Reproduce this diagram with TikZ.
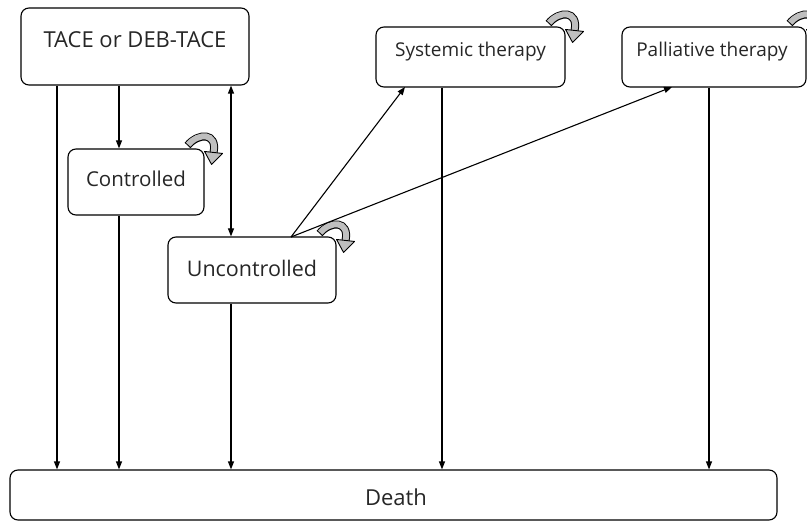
\documentclass[tikz,border=0pt]{standalone}
\usepackage{fontspec}
\setmainfont{Open Sans}
\usetikzlibrary{arrows.meta,calc}
\tikzset{
  box/.style={draw, line width=1.1pt, rounded corners=8pt, inner sep=0pt},
  lbl/.style={inner sep=0pt, text=black!85},
  arr/.style={line width=1.1pt, -{Triangle[length=8pt,width=6pt]}},
  darr/.style={line width=1.1pt, {Triangle[length=8pt,width=6pt]}-{Triangle[length=8pt,width=6pt]}},
  selfloop/.pic={
    \draw[line width=8pt, line cap=butt] (-17,-3) .. controls (-6,-16) and (13,-16) .. (9,4);
    \draw[line width=6pt, black!25, line cap=butt, shorten <=1pt] (-17,-3) .. controls (-6,-16) and (13,-16) .. (9,4);
    \draw[line width=0.9pt, fill=black!25, line join=round] (0,3) -- (18,5) -- (7,16) -- cycle;
  }
}
\begin{document}
\begin{tikzpicture}[x=1pt,y=-1pt]
\useasboundingbox (0,0) rectangle (807,524);
% boxes
\node[box, minimum width=228pt, minimum height=77pt] (tace) at (135,46.5) {};
\node[lbl, font={\fontsize{22}{24}\selectfont}] (tacet) at (135,40) {TACE or DEB-TACE};
\node[box, minimum width=136pt, minimum height=66pt] (ctrl) at (136,182) {};
\node[lbl, font={\fontsize{20.5}{22}\selectfont}] (ctrlt) at (136,179) {Controlled};
\node[box, minimum width=168pt, minimum height=66pt] (unc) at (252,270) {};
\node[lbl, font={\fontsize{21.5}{23}\selectfont}] (unct) at (252,268) {Uncontrolled};
\node[box, minimum width=189pt, minimum height=60pt] (sys) at (470.5,57) {};
\node[lbl, font={\fontsize{19}{21}\selectfont}] (syst) at (470.5,52) {Systemic therapy};
\node[box, minimum width=184pt, minimum height=60pt] (pal) at (714,57) {};
\node[lbl, font={\fontsize{19}{21}\selectfont}] (palt) at (712,52) {Palliative therapy};
\node[box, minimum width=767pt, minimum height=50pt] (death) at (393.5,495) {};
\node[lbl, font={\fontsize{22}{24}\selectfont}] (deatht) at (396,497) {Death};
% self loops
\pic at (ctrl.north east) {selfloop};
\pic at (unc.north east) {selfloop};
\pic at (sys.north east) {selfloop};
\pic at (pal.north east) {selfloop};
% coordinates
\coordinate (xa) at (57,0);
\coordinate (xb) at (119,0);
\coordinate (xc) at (231,0);
\coordinate (xd) at (442,0);
\coordinate (xe) at (709,0);
\coordinate (u1) at (291,237);
\coordinate (s1) at (405,87);
\coordinate (p1) at (672,87);
% connectors
\draw[arr] (tace.south -| xa) -- (death.north -| xa);
\draw[arr] (tace.south -| xb) -- (ctrl.north -| xb);
\draw[arr] (ctrl.south -| xb) -- (death.north -| xb);
\draw[darr] (tace.south -| xc) -- (unc.north -| xc);
\draw[arr] (unc.south -| xc) -- (death.north -| xc);
\draw[arr] (u1) -- (s1);
\draw[arr] (u1) -- (p1);
\draw[arr] (sys.south -| xd) -- (death.north -| xd);
\draw[arr] (pal.south -| xe) -- (death.north -| xe);
\end{tikzpicture}
\end{document}
